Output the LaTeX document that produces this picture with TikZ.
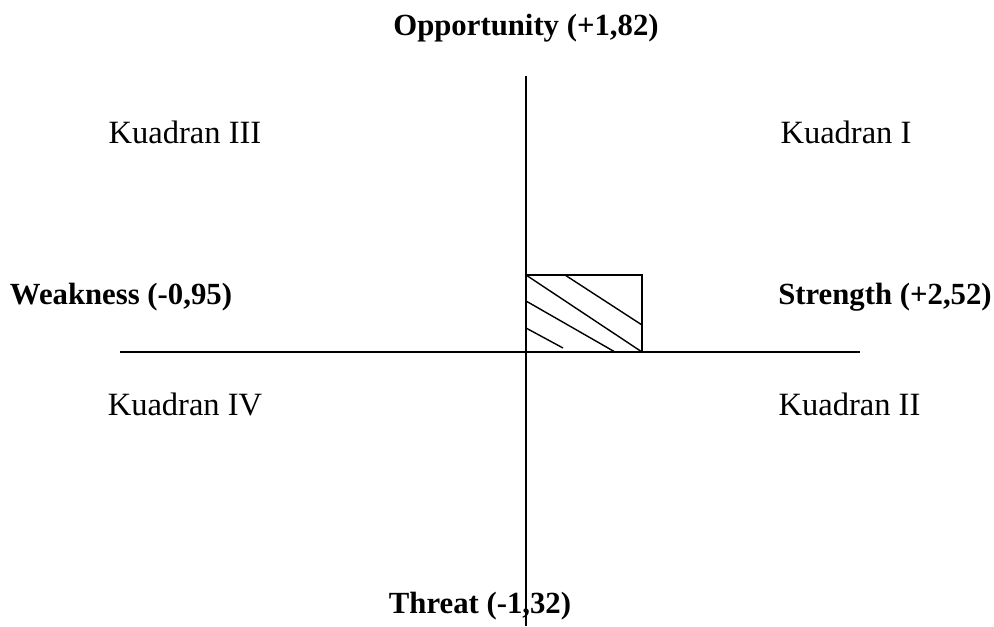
\documentclass[tikz,border=0pt]{standalone}
\usepackage{fontspec}
\setmainfont{Liberation Serif}
\usetikzlibrary{positioning}

\begin{document}
\begin{tikzpicture}[
    axis/.style={line width=1pt},
    hatch/.style={line width=0.8pt},
    factor/.style={font=\fontsize{17.5}{20}\selectfont\bfseries},
    quadrant/.style={font=\fontsize{18.5}{21}\selectfont},
]
    \useasboundingbox (0,0) rectangle (19.88,12.52);

    % axes
    \coordinate (top)    at (10.52, 11.0);
    \coordinate (bottom) at (10.52, 0);
    \coordinate (left)   at (2.4, 5.48);
    \coordinate (right)  at (17.2, 5.48);
    \draw[axis] (top) -- (bottom);
    \draw[axis] (left) -- (right);

    % factor labels
    \node[factor] (O) at (10.52, 11.96) {Opportunity (+1,82)};
    \node[factor] (W) at (2.42, 6.58)   {Weakness (-0,95)};
    \node[factor] (S) at (17.7, 6.58)   {Strength (+2,52)};
    \node[factor] (T) at (9.60, 0.40)   {Threat (-1,32)};

    % quadrants
    \node[quadrant] (K3) at (3.70, 9.88)  {Kuadran III};
    \node[quadrant] (K1) at (16.92, 9.88) {Kuadran I};
    \node[quadrant] (K4) at (3.70, 4.44)  {Kuadran IV};
    \node[quadrant] (K2) at (16.99, 4.44) {Kuadran II};

    % position box
    \draw[hatch] (10.52, 5.48) rectangle (12.84, 7.02);
    \draw[hatch] (11.30, 7.02) -- (12.84, 6.02);
    \draw[hatch] (10.52, 7.02) -- (12.84, 5.48);
    \draw[hatch] (10.52, 6.50) -- (12.30, 5.48);
    \draw[hatch] (10.52, 5.96) -- (11.26, 5.56);
\end{tikzpicture}
\end{document}
